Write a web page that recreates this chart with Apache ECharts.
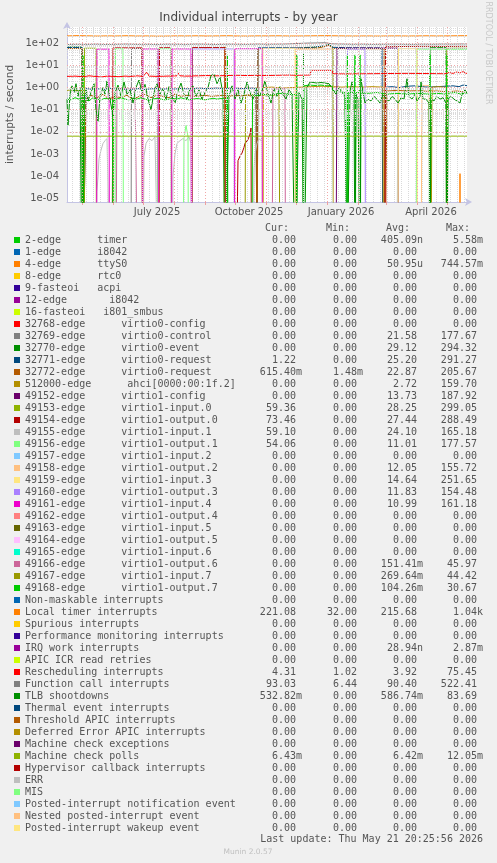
<!DOCTYPE html>
<html><head><meta charset="utf-8">
<script src="https://cdn.jsdelivr.net/npm/echarts@6/dist/echarts.min.js"></script>
<style>html,body{margin:0;padding:0;background:#f0f0f0}#c{width:497px;height:863px}</style>
</head><body><div id="c"></div>
<script>
// ---------- data ----------
const names = [
"2-edge      timer","1-edge      i8042","4-edge      ttyS0","8-edge      rtc0","9-fasteoi   acpi",
"12-edge       i8042","16-fasteoi   i801_smbus","32768-edge      virtio0-config","32769-edge      virtio0-control",
"32770-edge      virtio0-event","32771-edge      virtio0-request","32772-edge      virtio0-request",
"512000-edge      ahci[0000:00:1f.2]","49152-edge      virtio1-config","49153-edge      virtio1-input.0",
"49154-edge      virtio1-output.0","49155-edge      virtio1-input.1","49156-edge      virtio1-output.1",
"49157-edge      virtio1-input.2","49158-edge      virtio1-output.2","49159-edge      virtio1-input.3",
"49160-edge      virtio1-output.3","49161-edge      virtio1-input.4","49162-edge      virtio1-output.4",
"49163-edge      virtio1-input.5","49164-edge      virtio1-output.5","49165-edge      virtio1-input.6",
"49166-edge      virtio1-output.6","49167-edge      virtio1-input.7","49168-edge      virtio1-output.7",
"Non-maskable interrupts","Local timer interrupts","Spurious interrupts","Performance monitoring interrupts",
"IRQ work interrupts","APIC ICR read retries","Rescheduling interrupts","Function call interrupts",
"TLB shootdowns","Thermal event interrupts","Threshold APIC interrupts","Deferred Error APIC interrupts",
"Machine check exceptions","Machine check polls","Hypervisor callback interrupts","ERR","MIS",
"Posted-interrupt notification event","Nested posted-interrupt event","Posted-interrupt wakeup event"];
const colors = ["#00cc00","#0066b3","#ff8000","#ffcc00","#330099","#990099","#ccff00","#ff0000","#808080","#008f00",
"#00487d","#b35a00","#b38f00","#6b006b","#8fb300","#b30000","#bebebe","#80ff80","#80c9ff","#ffc080","#ffe680",
"#aa80ff","#ee00cc","#ff8080","#666600","#ffbfff","#00ffcc","#cc6699","#999900","#00cc00","#0066b3","#ff8000",
"#ffcc00","#330099","#990099","#ccff00","#ff0000","#808080","#008f00","#00487d","#b35a00","#b38f00","#6b006b",
"#8fb300","#b30000","#bebebe","#80ff80","#80c9ff","#ffc080","#ffe680"];
const curVals = ["0.00","0.00","0.00","0.00","0.00","0.00","0.00","0.00","0.00","0.00","1.22","615.40m","0.00","0.00",
"59.36","73.46","59.10","54.06","0.00","0.00","0.00","0.00","0.00","0.00","0.00","0.00","0.00","0.00","0.00","0.00",
"0.00","221.08","0.00","0.00","0.00","0.00","4.31","93.03","532.82m","0.00","0.00","0.00","0.00","6.43m","0.00",
"0.00","0.00","0.00","0.00","0.00"];
const minVals = ["0.00","0.00","0.00","0.00","0.00","0.00","0.00","0.00","0.00","0.00","0.00","1.48m","0.00","0.00",
"0.00","0.00","0.00","0.00","0.00","0.00","0.00","0.00","0.00","0.00","0.00","0.00","0.00","0.00","0.00","0.00",
"0.00","32.00","0.00","0.00","0.00","0.00","1.02","6.44","0.00","0.00","0.00","0.00","0.00","0.00","0.00",
"0.00","0.00","0.00","0.00","0.00"];
const avgVals = ["405.09n","0.00","50.95u","0.00","0.00","0.00","0.00","0.00","21.58","29.12","25.20","22.87","2.72",
"13.73","28.25","27.44","24.10","11.01","0.00","12.05","14.64","11.83","10.99","0.00","0.00","0.00","0.00",
"151.41m","269.64m","104.26m","0.00","215.68","0.00","0.00","28.94n","0.00","3.92","90.40","586.74m","0.00",
"0.00","0.00","0.00","6.42m","0.00","0.00","0.00","0.00","0.00","0.00"];
const maxVals = ["5.58m","0.00","744.57m","0.00","0.00","0.00","0.00","0.00","177.67","294.32","291.27","205.67",
"159.70","187.92","299.05","288.49","165.18","177.57","0.00","155.72","251.65","154.48","161.18","0.00","0.00",
"0.00","0.00","45.97","44.42","30.67","0.00","1.04k","0.00","0.00","2.87m","0.00","75.45","522.41","83.69",
"0.00","0.00","0.00","0.00","12.05m","0.00","0.00","0.00","0.00","0.00","0.00"];

// time axis: day index from 16 Apr 2025 (0) to 21 May 2026 (400)
const monthStartDays = [15,46,76,107,138,168,199,229,260,291,319,350,380];
const xLabelDays = [90,182,274,364];
const xLabelTexts = ["July 2025","October 2025","January 2026","April 2026"];
const yLabelValues = [1e-5,1e-4,1e-3,1e-2,1e-1,1,10,100];

// series values as [day, interrupts/second]
const ttyS0 = [[0,0],[392.6,0],[393,1.3e-4],[393.4,0],[400,0]];
const virtio0Control = [[0,0],[64,0],[64.5,58],[75,58],[75.5,0],[400,0]];
const virtio0Event = [[0,68],[15,68],[15.5,0],[236,0],[236.5,64],[255,70],[262,90],[266,64],[266.5,0],[362,0],[363,65],[379,65],[379.5,0],[400,0]];
const virtio0Req1 = [[0,64],[8,66],[15,63],[16,0],[18,0],[19,0.9],[24,0.85],[30,0.9],[36,0.8],[42,0.95],[48,0.85],[54,0.9],[60,0.8],[66,0.85],[72,0.9],[78,0.82],[84,0.88],[90,0.9],[96,0.85],[102,0.9],[108,0.86],[114,0.92],[120,0.88],[126,0.9],[132,0.95],[138,0.9],[144,0.92],[150,0.95],[156,0.9],[162,0.93],[168,0.95],[174,0.9],[180,0.92],[186,0.95],[189,0.9],[190,0],[191,62],[210,63],[230,62],[245,65],[255,75],[262,85],[266,66],[280,63],[300,62],[315,61],[316,0],[318,0],[319,1.05],[325,1.1],[332,1.0],[340,1.15],[348,1.2],[355,1.1],[362,1.05],[370,1.1],[378,1.15],[386,1.2],[392,1.1],[396,1.3],[400,1.22]];
const virtio0Req2 = [[0,58],[15,58],[16,0],[18,0],[19,0.3],[24,0.45],[30,0.35],[36,0.5],[42,0.3],[48,0.4],[54,0.35],[60,0.45],[66,0.3],[72,0.4],[78,0.5],[84,0.35],[90,0.45],[96,0.4],[102,0.35],[108,0.5],[114,0.4],[120,0.45],[126,0.4],[132,0.42],[138,0.45],[144,0.4],[150,0.42],[156,0.45],[162,0.4],[168,0.45],[174,0.42],[180,0.45],[186,0.4],[189,0.42],[190,0],[191,58],[220,59],[250,60],[262,80],[266,58],[290,57],[317,57],[318,0],[319,0],[320,0.7],[330,0.75],[340,0.7],[350,0.72],[360,0.68],[370,0.7],[380,0.65],[390,0.7],[400,0.615]];
const ahci = [[0,0],[157,0],[158,70],[160,70],[160.5,0],[196,0],[196.5,1.0],[205,1.05],[215,0.95],[225,1.0],[235,1.05],[245,1.1],[255,1.15],[265,1.1],[275,1.05],[285,1.1],[295,1.05],[305,1.1],[316,1.05],[316.5,0],[364,0],[365,1.05],[372,1.1],[380,1.0],[380.5,0],[400,0]];
const virtio1Config = [[0,0],[269,0],[270,60],[300,61],[331,60],[331.5,0],[400,0]];
const virtio1In0 = [[0,0],[17,0],[17.5,60],[29,60],[29.5,0],[379,0],[380,59],[390,60],[400,59.36]];
const virtio1Out0 = [[0,0],[45,0],[46,62],[75,62],[75.5,0],[92,0],[92.5,63],[104,63],[104.5,0],[125,0],[125.5,64],[158,64],[158.5,0],[170,0],[170.5,1.2e-5],[171,5e-4],[173,8e-4],[175,1.1e-3],[177,2e-3],[178,3e-3],[180,3.5e-3],[181,4.5e-3],[183,8e-3],[184,1.5e-2],[184.5,0],[318,0],[318.5,70],[340,72],[360,73],[380,72],[400,73.46]];
const virtio1In1 = [[0,0],[29,0],[30,2e-5],[31,1e-4],[32,6e-4],[34,1.5e-3],[36,3e-3],[38,4e-3],[40,5e-3],[42,6e-3],[43,0],[76,0],[77,8e-4],[79,3e-3],[82,5e-3],[85,4e-3],[88,6e-3],[90,5e-3],[91,0],[105,0],[106,1e-4],[108,1e-3],[110,3e-3],[113,4e-3],[116,5e-3],[119,4e-3],[122,6e-3],[124,3e-3],[124.5,0],[186,0],[187,2e-4],[188,1e-3],[190,3e-3],[192,5e-3],[194,4e-3],[195,6e-3],[195.5,0],[330,0],[331,58],[360,60],[400,59.1]];
const virtio1Out1 = [[0,0],[48,0],[48.5,57],[56,57],[56.5,0],[90,0],[91,57],[104,57],[104.5,0],[116,0],[117,5e-3],[119,2e-2],[121,6e-3],[121.5,0],[349,0],[350,55],[380,54],[400,54.06]];
const virtio1Out2 = [[0,0],[228,0],[228.5,55],[266,55],[266.5,0],[354,0],[355,1.3],[358,1.2],[362,1.25],[363,0],[400,0]];
const virtio1In3 = [[0,0],[195.5,0],[196,58],[228,58],[228.5,0],[331,0],[331.5,57],[350,57],[350.5,0],[400,0]];
const virtio1Out3 = [[0,0],[124.5,0],[125,56],[167,56],[167.5,0],[280,0],[280.5,55],[298,55],[298.5,0],[400,0]];
const virtio1In4 = [[0,0],[29.5,0],[30,55],[42,55],[42.5,0],[75.5,0],[76,56],[91,56],[91.5,0],[104.5,0],[105,56],[124,56],[124.5,0],[167.5,0],[168,57],[195,57],[195.5,0],[400,0]];
const virtio1Out6 = [[0,0],[49,0],[50,0.85],[56,0.9],[62,0.88],[68,0.92],[70,0.9],[70.5,0],[205,0],[206,0.9],[212,0.85],[218,0.9],[218.5,0],[400,0]];
const virtio1In7 = [[0,0.75],[6,0.8],[12,0.7],[16,0.75],[16.5,0],[178,0],[178.5,0.45],[184,0.5],[190,0.42],[196,0.45],[200,0.5],[206,0.45],[212,0.48],[213,0],[400,0]];
const virtio1Out7 = [[0,0.3],[4,0.28],[8,0.35],[12,0.3],[15,0.32],[15.6,0],[16,30],[16.4,0],[17,0.3],[22,0.25],[26,0.35],[30,0.3],[34,0.28],[38,0.33],[42,0.3],[45.6,0.28],[46,0],[46.4,0.3],[50,0.3],[54,0.35],[58,0.3],[62,0.28],[66,0.32],[70,0.3],[74,0.35],[78,0.3],[82,0.27],[86,0.3],[90,0.33],[94,0.3],[98,0.28],[102,0.3],[106,0.32],[110,0.3],[114,0.35],[118,0.3],[122,0.28],[126,0.3],[130,0.32],[134,0.3],[138,0.28],[142,0.3],[146,0.33],[150,0.3],[154,0.32],[159.6,0.3],[160,0],[160.4,30],[161,0],[185,0],[185.5,0.4],[190,0.45],[196,0.5],[202,0.45],[208,0.5],[214,0.55],[220,0.5],[226,0.48],[229,0.5],[229.4,0],[229.8,30],[230.2,0],[236.5,0],[237,1.2],[242,1.3],[248,1.25],[254,1.3],[260,1.2],[265,1.25],[266,0.7],[272,0.65],[278,0.6],[279.6,0.6],[280,0],[280.4,30],[280.8,0],[281.2,0.6],[287.6,0.6],[288,30],[288.4,0],[288.8,0.6],[292.6,0.6],[293,30],[293.4,0],[293.8,0.6],[300,0.55],[310,0.6],[320,0.5],[330,0.55],[340,0.5],[350,0.55],[362.6,0.5],[363,30],[363.4,0],[363.8,0.5],[370,0.55],[379.6,0.5],[380,30],[380.4,0],[380.8,0.55],[388,0.6],[394,0.5],[400,0.6]];
const localTimer = [[0,215],[10,222],[20,218],[30,212],[40,216],[50,214],[60,220],[70,213],[80,215],[90,210],[100,212],[110,216],[120,214],[130,218],[140,213],[150,215],[160,220],[170,214],[180,212],[190,216],[200,215],[210,218],[220,214],[230,213],[240,216],[250,219],[260,221],[270,217],[280,214],[290,213],[300,215],[310,212],[320,214],[330,216],[340,213],[350,215],[360,218],[370,214],[380,216],[390,219],[400,221]];
const rescheduling = [[0,3.2],[8,3.3],[16,3.1],[22,3.4],[28,3.2],[34,3.0],[40,3.3],[46,3.2],[52,3.1],[58,3.3],[64,3.2],[70,3.4],[76,3.2],[80,5.0],[82,3.3],[90,3.2],[100,3.3],[110,3.4],[111,4.6],[113,3.4],[120,3.3],[130,3.4],[140,3.5],[150,3.4],[160,3.5],[170,3.6],[180,3.5],[190,3.6],[200,3.5],[210,3.6],[220,3.7],[230,3.6],[243,3.7],[244,6.0],[265,6.0],[266,4.2],[280,4.1],[300,4.2],[320,4.3],[340,4.4],[360,4.3],[378,4.2],[382,4.8],[386,4.4],[390,5.1],[393,4.6],[396,5.2],[400,4.31]];
const functionCall = [[0,88],[10,90],[20,89],[30,91],[40,88],[50,90],[60,92],[70,89],[80,90],[90,88],[100,91],[110,90],[120,89],[130,92],[140,90],[150,88],[160,91],[170,90],[180,89],[190,92],[200,90],[210,91],[220,93],[230,98],[240,102],[250,104],[258,106],[265,95],[275,92],[285,90],[295,91],[305,89],[315,90],[325,91],[335,90],[345,89],[355,91],[365,90],[375,92],[385,91],[395,93],[400,93.03]];
const tlbShootdowns = [[0,0.3],[1,0.02],[3,0.5],[5,1.2],[7,0.6],[9,1.5],[11,0.4],[13,1.0],[15,0],[16.5,0],[17,0.3],[19,0.8],[21,0.25],[24,0.6],[27,1.5],[29,0.1],[31,0.03],[33,0.4],[36,1.0],[38,0.5],[40,2.0],[43,0.3],[46,0.05],[48,0.6],[51,1.3],[54,0.4],[57,1.8],[60,0.5],[63,0.8],[66,0.2],[69,1.0],[72,2.2],[75,0.6],[78,1.4],[81,0.3],[84,0.1],[87,0.6],[90,1.5],[93,0.5],[96,0.9],[99,0.3],[102,1.1],[105,0.4],[108,0.2],[111,0.7],[114,1.6],[117,0.5],[120,0.3],[123,0.9],[126,1.2],[129,0.4],[132,0.8],[135,0.3],[138,0.6],[141,1.0],[144,3.5],[147,4.0],[150,1.5],[153,3.0],[156,0.5],[158,0],[160,0],[162,0.4],[165,1.2],[168,0.3],[171,0.8],[174,0.2],[177,0.5],[180,1.8],[183,0.6],[186,0.3],[189,1.0],[192,0.4],[195,0.7],[198,2.0],[201,0.5],[204,0.2],[207,0.9],[210,0.4],[213,1.1],[216,0.5],[219,0.3],[222,0.8],[225,0.5],[228,0],[230,0],[232,0.6],[235,0.3],[237,0],[238,0],[240,1.0],[243,1.8],[246,1.7],[250,1.6],[254,1.7],[258,1.6],[262,1.5],[266,0.8],[269,0.5],[272,1.0],[275,0.6],[278,0.4],[280,0],[281,0],[283,0.7],[285,1.8],[287,0.5],[288,0],[289,0.5],[291,0.3],[293,0],[294,2.5],[296,0.6],[298,0.2],[301,0.3],[304,0.25],[307,0.4],[310,0.3],[313,0.2],[316,0.5],[319,0.3],[322,0.25],[325,0.4],[328,0.3],[331,0.2],[334,0.35],[337,0.3],[340,2.5],[342,0.4],[345,0.3],[348,0.5],[350,0.25],[353,0.4],[354,1.8],[356,0.3],[359,0.3],[362,0.2],[363,0],[364,0.3],[367,0.25],[370,0.4],[373,0.3],[376,0.35],[379,0.2],[380,0],[381,0.3],[384,0.4],[387,0.3],[390,0.25],[393,0.2],[395,0.5],[398,0.8],[400,0.53]];
const machineCheckPolls = [[0,6.4e-3],[100,6.42e-3],[200,6.4e-3],[300,6.43e-3],[400,6.43e-3]];

const seriesData = {
  2: ttyS0, 8: virtio0Control, 9: virtio0Event, 10: virtio0Req1, 11: virtio0Req2, 12: ahci,
  13: virtio1Config, 14: virtio1In0, 15: virtio1Out0, 16: virtio1In1, 17: virtio1Out1, 19: virtio1Out2,
  20: virtio1In3, 21: virtio1Out3, 22: virtio1In4, 27: virtio1Out6, 28: virtio1In7, 29: virtio1Out7,
  31: localTimer, 36: rescheduling, 37: functionCall, 38: tlbShootdowns, 43: machineCheckPolls
};

// ---------- chart ----------
const chart = echarts.init(document.getElementById('c'), null, {renderer: 'canvas'});
const FONT = '"DejaVu Sans", Verdana, sans-serif';
const MONO = '"DejaVu Sans Mono", monospace';
const TXT = '#555555';

// grid lines (decorations) as markLines
const gridLines = [];
for (let e = -6; e <= 2; e++) {
  for (let m = 2; m <= 9; m++) {
    const v = m * Math.pow(10, e);
    if (v > 6.8e-6 && v < 545) gridLines.push({yAxis: v, lineStyle: {color: '#dadada', type: [1, 1], width: 1}});
  }
}
for (let d = 5; d < 400; d += 7) {
  if (monthStartDays.indexOf(d) < 0) gridLines.push({xAxis: d, lineStyle: {color: '#dadada', type: [1, 1], width: 1}});
}
yLabelValues.forEach(v => gridLines.push({yAxis: v, lineStyle: {color: '#f0a8a8', type: [1, 2], width: 1}}));
monthStartDays.forEach(d => gridLines.push({xAxis: d, lineStyle: {color: '#f0a8a8', type: [1, 2], width: 1}}));

const series = [{
  name: '__grid', type: 'line', data: [], silent: true, z: 1,
  markLine: {silent: true, symbol: 'none', animation: false, label: {show: false}, data: gridLines}
}];
names.forEach((n, i) => {
  const raw = seriesData[i] || [];
  series.push({
    name: n, type: 'line', z: 2, showSymbol: false, symbol: 'none', silent: true, animation: false,
    color: colors[i], lineStyle: {width: 1, color: colors[i]}, clip: true,
    data: raw.map(p => [p[0], p[1] > 0 ? p[1] : 1e-9])
  });
});

const idx = {};
names.forEach((n, i) => idx[n] = i);
const sfx = s => /[0-9]$/.test(s) ? s + ' ' : s;
const richBase = {fontFamily: MONO, fontSize: 10, color: TXT, lineHeight: 12};

chart.setOption({
  backgroundColor: '#f0f0f0',
  animation: false,
  title: {text: 'Individual interrupts - by year', left: 'center', top: 12, padding: 0,
    textStyle: {fontFamily: FONT, fontSize: 12, fontWeight: 'normal', color: '#444'}},
  grid: {left: 67, right: 30, top: 27, bottom: 661, show: true, backgroundColor: '#ffffff', borderWidth: 0, containLabel: false},
  xAxis: {
    type: 'value', min: 0, max: 400,
    axisLine: {show: true, lineStyle: {color: '#c4c4e4', width: 1}, symbol: ['none', 'arrow'], symbolSize: [6, 7], symbolOffset: [0, 5]},
    axisTick: {show: true, customValues: monthStartDays, length: 3, inside: false, lineStyle: {color: '#eda0a0'}},
    axisLabel: {customValues: xLabelDays, formatter: v => xLabelTexts[xLabelDays.indexOf(v)] || '',
      color: TXT, fontFamily: FONT, fontSize: 10, margin: 5},
    splitLine: {show: false}
  },
  yAxis: {
    type: 'log', logBase: 10, min: 6.8e-6, max: 545,
    axisLine: {show: true, lineStyle: {color: '#c4c4e4', width: 1}, symbol: ['none', 'arrow'], symbolSize: [6, 7], symbolOffset: [0, 5]},
    axisTick: {show: false},
    axisLabel: {customValues: yLabelValues, color: TXT, fontFamily: FONT, fontSize: 10, margin: 8,
      formatter: v => {
        const l = Math.log10(v), e = Math.round(l);
        if (Math.abs(l - e) > 1e-6) return '';
        return '1e' + (e < 0 ? '-' : '+') + String(Math.abs(e)).padStart(2, '0');
      }},
    splitLine: {show: false}, minorSplitLine: {show: false}
  },
  legend: {
    type: 'plain', orient: 'vertical', left: 14, top: 234, padding: 0, itemGap: 0,
    itemWidth: 6, itemHeight: 6, icon: 'rect', selectedMode: false,
    data: names.map(n => ({name: n, itemStyle: {color: colors[idx[n]]}})),
    textStyle: Object.assign({}, richBase, {
      rich: {
        n: Object.assign({width: 217}, richBase),
        c: Object.assign({width: 60, align: 'right'}, richBase),
        m: Object.assign({width: 61, align: 'right'}, richBase),
        a: Object.assign({width: 60, align: 'right'}, richBase),
        x: Object.assign({width: 60, align: 'right'}, richBase)
      }
    }),
    formatter: n => {
      const i = idx[n];
      return '{n|' + n + '}{c|' + sfx(curVals[i]) + '}{m|' + sfx(minVals[i]) + '}{a|' + sfx(avgVals[i]) + '}{x|' + sfx(maxVals[i]) + '}';
    }
  },
  graphic: [
    {type: 'text', x: 10, y: 114.5, rotation: Math.PI / 2,
      style: {text: 'interrupts / second', fontFamily: FONT, fontSize: 10.5, fill: TXT, align: 'center', verticalAlign: 'middle'}},
    {type: 'text', x: 488.5, y: 53, rotation: -Math.PI / 2,
      style: {text: 'RRDTOOL / TOBI OETIKER', fontFamily: FONT, fontSize: 8, fill: '#c8c8c8', align: 'center', verticalAlign: 'middle'}},
    {type: 'text', x: 289, y: 228, style: {text: 'Cur:', fontFamily: MONO, fontSize: 10, fill: TXT, align: 'right', verticalAlign: 'middle'}},
    {type: 'text', x: 350, y: 228, style: {text: 'Min:', fontFamily: MONO, fontSize: 10, fill: TXT, align: 'right', verticalAlign: 'middle'}},
    {type: 'text', x: 410, y: 228, style: {text: 'Avg:', fontFamily: MONO, fontSize: 10, fill: TXT, align: 'right', verticalAlign: 'middle'}},
    {type: 'text', x: 470, y: 228, style: {text: 'Max:', fontFamily: MONO, fontSize: 10, fill: TXT, align: 'right', verticalAlign: 'middle'}},
    {type: 'text', x: 483, y: 839, style: {text: 'Last update: Thu May 21 20:25:56 2026', fontFamily: MONO, fontSize: 10, fill: TXT, align: 'right', verticalAlign: 'middle'}},
    {type: 'text', x: 248, y: 852, style: {text: 'Munin 2.0.57', fontFamily: FONT, fontSize: 7.5, fill: '#c0c0c0', align: 'center', verticalAlign: 'middle'}}
  ],
  series: series
});
</script></body></html>
